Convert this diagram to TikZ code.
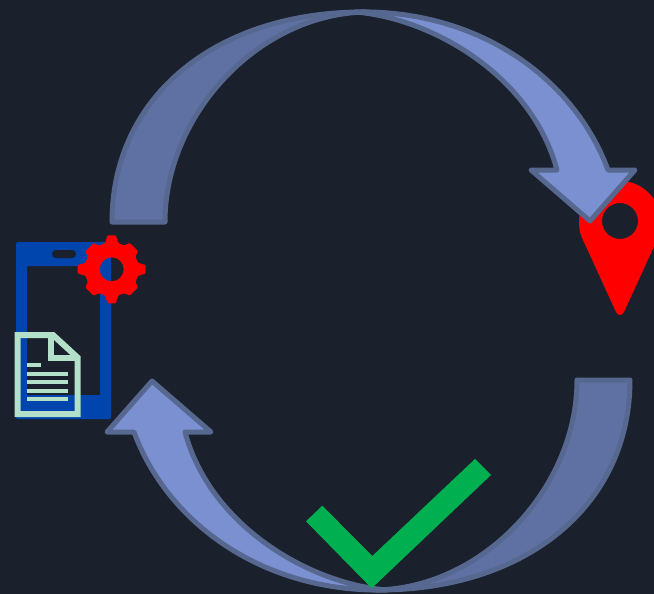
\documentclass[tikz,border=0pt]{standalone}
\usepackage{tikz}
\usetikzlibrary{calc}

\definecolor{canvasbg}{HTML}{1A202C}
\definecolor{flowlight}{HTML}{7A90D0}
\definecolor{flowdark}{HTML}{5F70A3}
\definecolor{flowedge}{HTML}{56688F}
\definecolor{phoneblue}{HTML}{0045AD}
\definecolor{docmint}{HTML}{B3E0C8}
\definecolor{checkgreen}{HTML}{00B050}

\begin{document}
\begin{tikzpicture}[
    x=1pt, y=-1pt,
    % Core Shapes
    flowback/.style={fill=flowdark, draw=flowedge, line width=5pt, line join=round},
    flowfront/.style={fill=flowlight, draw=flowedge, line width=5pt, line join=round},
    marker/.style={fill=red, even odd rule},
    docline/.style={draw=docmint, line width=4pt},
    cyclearrow/.pic={
        \path[flowback] (112,222) .. controls (112,95) and (218,11) .. (366,12)
            .. controls (258,14) and (165,115) .. (165,222) -- cycle;
        \path[flowfront] (355,12) .. controls (480,9) and (575,80) .. (608,170)
            -- (635,170) -- (590,221) -- (531,170) -- (557,170)
            .. controls (532,76) and (432,18) .. (355,12) -- cycle;
    },
]

\fill[canvasbg] (0,0) rectangle (654,594);
\useasboundingbox (0,0) rectangle (654,594);

\begin{scope}
\clip (0,0) rectangle (654,594);

% 1. Phone
\fill[phoneblue, even odd rule] [rounded corners=2pt] (16,242) rectangle (111,419) [sharp corners] (27,266) rectangle (100,395);
\fill[canvasbg, rounded corners=3.9pt] (52,250) rectangle (76,258);

% 2. Gear
\coordinate (gear) at (111.7,269.3);
\path[marker, rounded corners=1pt] (gear) ++(-14:27)
    \foreach \a/\tip/\wide/\base in {0/34.3/7/14, 45/32/10.5/17, 90/34.3/7/14, 135/32/10.5/17, 180/34.3/7/14, 225/32/10.5/17, 270/34.3/7/14, 315/32/10.5/17} {
        -- ($(gear)+(\a-\base:27)$) -- ($(gear)+(\a-\wide:\tip)$) -- ($(gear)+(\a+\wide:\tip)$) -- ($(gear)+(\a+\base:27)$)
    } -- cycle
    (gear) circle (12);

% 3. Document
\draw[draw=docmint, line width=6pt, line join=miter] (17.5,335) -- (53,335) -- (77.5,357.5) -- (77.5,414) -- (17.5,414) -- cycle;
\draw[draw=docmint, line width=6pt] (51,335) -- (51,357.5) -- (77.5,357.5);
\draw[docline] (27,365) -- (41,365);
\foreach \y in {373.5,382,390.5,399} {
    \draw[docline] (27,\y) -- (67.7,\y);
}

% 4. Location pin
\path[marker] (620,181) .. controls (597,181) and (579,200) .. (579,222)
    .. controls (579,229) and (580,234) .. (583,240) -- (616,312)
    .. controls (618,316) and (622,316) .. (624,312) -- (657,240)
    .. controls (660,234) and (661,229) .. (661,222)
    .. controls (661,200) and (643,181) .. (620,181) -- cycle
    (620,221) circle (18);

% 5. Cycle arrows
\pic {cyclearrow};
\pic[rotate around={180:(371,301)}] {cyclearrow};

% 6. Check mark
\fill[checkgreen] (306,521.3) -- (322.3,505.7) -- (372.3,556) -- (475,459) -- (491,475) -- (371.7,588.3) -- cycle;
\end{scope}

\end{tikzpicture}
\end{document}
